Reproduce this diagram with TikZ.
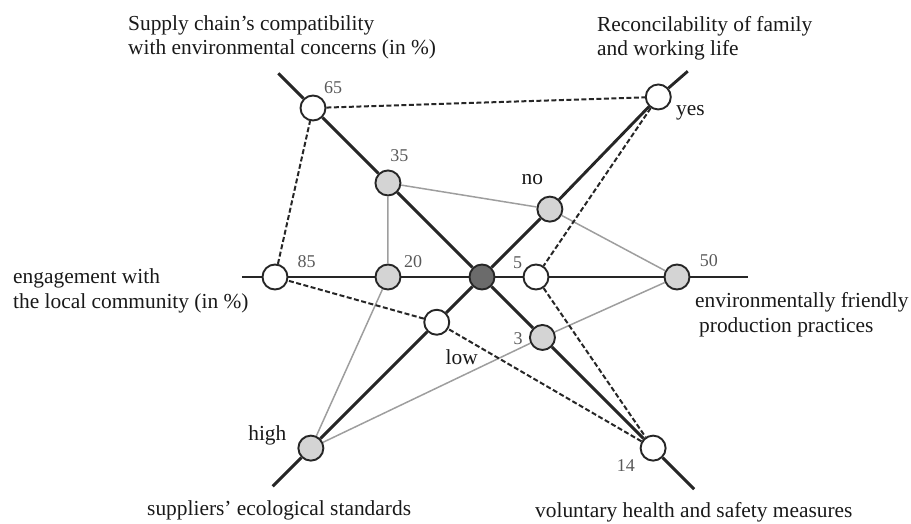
\documentclass[tikz,border=0pt]{standalone}
\usepackage{fontspec}
\setmainfont{Liberation Serif}
\usepackage{tikz}

\begin{document}
\begin{tikzpicture}[x=1pt,y=1pt,
  dot/.style={draw=black!85,circle,line width=1.9pt,minimum size=25pt,inner sep=0pt,fill=black!17},
  hole/.style={dot,fill=white},
  every label/.style={inner sep=0pt,text=black!65,font=\fontsize{18}{18}\selectfont},
  word/.style={text=black!90,font=\fontsize{21.4}{21.4}\selectfont},
  title/.style={inner sep=0pt,align=left,text=black!90,font=\fontsize{21.4}{24.5}\selectfont},
  axis/.style={line width=2.9pt,black!85},
  grey/.style={line width=1.5pt,black!38},
  dashline/.style={line width=2pt,black!85,dash pattern=on 5pt off 2.5pt}]
  \useasboundingbox (-482,-246) rectangle (429,277);

  \coordinate (h1) at (180:240);
  \coordinate (h2) at (0:266);
  \coordinate (d1) at (135:288);
  \coordinate (d2) at (-45:300);
  \coordinate (d3) at (225:296);
  \coordinate (d4) at (45:291);

  \node[dot,fill=black!58] (c) at (0:0) {};
  \node[hole] (65) at (135:239)[label={[label distance=4.6pt]53:65}]{};
  \node[dot] (35) at (135:133)[label={[label distance=7.3pt]84:35}]{};
  \node[dot] (3) at (-45:85.5)[label={[label distance=6.2pt]182:3}]{};
  \node[hole] (14) at (-45:242)[label={[label distance=7.7pt]211:14}]{};

  \node[hole] (85) at (180:207)[label={[label distance=10.7pt]21:85}]{};
  \node[dot] (20) at (180:94)[label={[label distance=5pt]30:20}]{};
  \node[hole] (5) at (0:54)[label={[label distance=2.6pt]148:5}]{};
  \node[dot] (50) at (0:195)[label={[label distance=11.3pt]24:50}]{};

  \node[hole] (low) at (225:64)[label={[word,label distance=14.9pt]-72:low}]{};
  \node[dot] (high) at (225:242)[label={[word,label distance=11pt]174:high}]{};
  \node[dot] (no) at (45:96)[label={[word,label distance=12pt]105:no}]{};
  \node[hole] (yes) at (45.6:252)[label={[word,label distance=5.8pt]-24:yes}]{};

  \node[title,anchor=base west] (t1) at (-354,222.5) {Supply chain’s compatibility\\with environmental concerns (in \%)};
  \node[title,anchor=base west] (t2) at (115,221.5) {Reconcilability of family\\and working life};
  \node[title,anchor=base west] (t3) at (-469,-31) {engagement with\\the local community (in \%)};
  \node[title,anchor=base west] (t4) at (213,-55) {environmentally friendly\\\hspace*{4pt}production practices};
  \node[title,anchor=base west] (t5) at (-335,-238) {suppliers’ ecological standards};
  \node[title,anchor=base west] (t6) at (53,-240) {voluntary health and safety measures};

  \draw[grey](35)--(no)--(50)--(3)--(high)--(20)--(35);
  \draw[dashline](65)--(yes)--(5)--(14)--(low)--(85)--(65);
  \draw[axis](h1)--(85)--(20)--(c)--(5)--(50)--(h2);
  \draw[axis](d1)--(65)--(35)--(c)--(3)--(14)--(d2);
  \draw[axis](d3)--(high)--(low)--(c)--(no)--(yes)--(d4);
\end{tikzpicture}
\end{document}
